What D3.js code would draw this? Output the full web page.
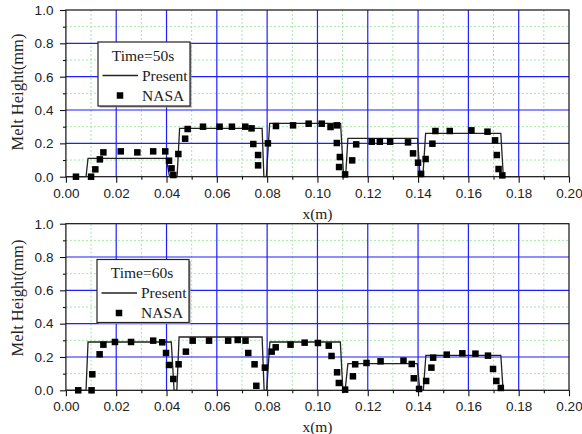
<!DOCTYPE html>
<html>
<head>
<meta charset="utf-8">
<script src="https://cdn.jsdelivr.net/npm/d3@7"></script>
<style>
  html, body { margin: 0; padding: 0; background: #fff; }
  svg { display: block; }
</style>
</head>
<body>
<svg id="chart" width="582" height="434"></svg>
<script>
// Axis ticks
const xMajorTicks = [0, 0.02, 0.04, 0.06, 0.08, 0.10, 0.12, 0.14, 0.16, 0.18, 0.20];
const xMinorTicks = [0.01, 0.03, 0.05, 0.07, 0.09, 0.11, 0.13, 0.15, 0.17, 0.19];
const yMajorTicks = [0, 0.2, 0.4, 0.6, 0.8, 1.0];
const yMinorTicks = [0.1, 0.3, 0.5, 0.7, 0.9];

// Time = 50 s : computed melt profile (x, height)
const present50X = [0, 0.0080, 0.0088, 0.0399, 0.0412, 0.0442, 0.0452, 0.0780, 0.0787, 0.0797, 0.0810, 0.1092, 0.1104, 0.1112, 0.1121, 0.1398, 0.1408, 0.1419, 0.1430, 0.1729, 0.1739, 0.18];
const present50Y = [0, 0, 0.11, 0.11, 0, 0, 0.29, 0.29, 0, 0, 0.32, 0.32, 0, 0, 0.23, 0.23, 0, 0, 0.26, 0.26, 0, 0];
// Time = 50 s : NASA measurements
const nasa50X = [0.0040, 0.0100, 0.0117, 0.0135, 0.0149, 0.0218, 0.0284, 0.0347, 0.0395, 0.0410, 0.0420, 0.0427, 0.0447, 0.0474, 0.0484, 0.0545, 0.0611, 0.0660, 0.0713, 0.0738, 0.0745, 0.0764, 0.0764, 0.0803, 0.0835, 0.0903, 0.0965, 0.1017, 0.1052, 0.1077, 0.1077, 0.1089, 0.1086, 0.1110, 0.1138, 0.1154, 0.1216, 0.1248, 0.1289, 0.1360, 0.1380, 0.1400, 0.1412, 0.1430, 0.1457, 0.1469, 0.1526, 0.1612, 0.1676, 0.1706, 0.1713, 0.1720, 0.1735];
const nasa50Y = [0, 0, 0.044, 0.104, 0.146, 0.152, 0.146, 0.152, 0.152, 0.096, 0.050, 0.010, 0.136, 0.228, 0.286, 0.300, 0.300, 0.300, 0.300, 0.290, 0.196, 0.130, 0.068, 0.200, 0.304, 0.308, 0.318, 0.318, 0.298, 0.308, 0.202, 0.118, 0.058, 0.014, 0.098, 0.194, 0.210, 0.210, 0.210, 0.206, 0.140, 0.084, 0.017, 0.106, 0.198, 0.274, 0.274, 0.278, 0.270, 0.218, 0.130, 0.046, 0.008];

// Time = 60 s : computed melt profile
const present60X = [0, 0.0080, 0.0088, 0.0419, 0.0430, 0.0441, 0.0450, 0.0780, 0.0788, 0.0798, 0.0811, 0.1091, 0.1101, 0.1110, 0.1121, 0.1397, 0.1407, 0.1421, 0.1431, 0.1729, 0.1738, 0.18];
const present60Y = [0, 0, 0.29, 0.29, 0, 0, 0.32, 0.32, 0, 0, 0.29, 0.29, 0, 0, 0.16, 0.16, 0, 0, 0.21, 0.21, 0, 0];
// Time = 60 s : NASA measurements
const nasa60X = [0.0049, 0.0102, 0.0105, 0.0134, 0.0149, 0.0195, 0.0259, 0.0347, 0.0383, 0.0398, 0.0410, 0.0427, 0.0448, 0.0477, 0.0504, 0.0569, 0.0645, 0.0683, 0.0714, 0.0725, 0.0750, 0.0757, 0.0791, 0.0818, 0.0834, 0.0893, 0.0949, 0.1002, 0.1045, 0.1056, 0.1078, 0.1085, 0.1110, 0.1141, 0.1150, 0.1195, 0.1251, 0.1342, 0.1375, 0.1383, 0.1404, 0.1432, 0.1453, 0.1460, 0.1514, 0.1576, 0.1628, 0.1678, 0.1698, 0.1711, 0.1729];
const nasa60Y = [0, 0, 0.096, 0.216, 0.274, 0.290, 0.290, 0.298, 0.288, 0.224, 0.152, 0.068, 0.156, 0.232, 0.298, 0.298, 0.298, 0.302, 0.298, 0.224, 0.156, 0.027, 0.136, 0.232, 0.258, 0.274, 0.286, 0.284, 0.268, 0.206, 0.108, 0.044, 0.004, 0.084, 0.156, 0.164, 0.174, 0.178, 0.158, 0.072, 0.008, 0.056, 0.136, 0.196, 0.214, 0.222, 0.220, 0.208, 0.128, 0.056, 0.014];

const panels = [
  { time: "Time=50s", top: 10, bottom: 176.7, lineX: present50X, lineY: present50Y, ptX: nasa50X, ptY: nasa50Y,
    legend: { x: 98, y: 42, w: 92, h: 64 }, yLabelY: 92 },
  { time: "Time=60s", top: 223.7, bottom: 390.3, lineX: present60X, lineY: present60Y, ptX: nasa60X, ptY: nasa60Y,
    legend: { x: 97, y: 259.5, w: 92, h: 63 }, yLabelY: 298 }
];

const left = 65.9, right = 569;
const serif = "'Liberation Serif', 'Times New Roman', serif";
const sans = "'Liberation Sans', Arial, sans-serif";
const svg = d3.select("#chart");

panels.forEach(p => {
  const x = d3.scaleLinear().domain([0, 0.2]).range([left, right]);
  const y = d3.scaleLinear().domain([0, 1]).range([p.bottom, p.top]);
  const g = svg.append("g");

  // minor grid (dashed green)
  g.append("g").selectAll("line.vx").data(xMinorTicks).join("line")
    .attr("x1", d => x(d)).attr("x2", d => x(d)).attr("y1", p.top).attr("y2", p.bottom)
    .attr("stroke", "#9fe89f").attr("stroke-width", 1).attr("stroke-dasharray", "2,2");
  g.append("g").selectAll("line.hy").data(yMinorTicks).join("line")
    .attr("x1", left).attr("x2", right).attr("y1", d => y(d)).attr("y2", d => y(d))
    .attr("stroke", "#9fe89f").attr("stroke-width", 1).attr("stroke-dasharray", "2,2");

  // major grid (blue)
  g.append("g").selectAll("line").data(xMajorTicks.filter(d => d > 0 && d < 0.2)).join("line")
    .attr("x1", d => x(d)).attr("x2", d => x(d)).attr("y1", p.top).attr("y2", p.bottom)
    .attr("stroke", "#1f1fff").attr("stroke-width", 1.2);
  g.append("g").selectAll("line").data(yMajorTicks.filter(d => d > 0 && d < 1)).join("line")
    .attr("x1", left).attr("x2", right).attr("y1", d => y(d)).attr("y2", d => y(d))
    .attr("stroke", "#1f1fff").attr("stroke-width", 1.2);

  // frame
  g.append("rect").attr("x", left).attr("y", p.top).attr("width", right - left).attr("height", p.bottom - p.top)
    .attr("fill", "none").attr("stroke", "#111").attr("stroke-width", 1.2);

  // axes
  const xAxis = g.append("g").attr("transform", `translate(0,${p.bottom})`)
    .call(d3.axisBottom(x).tickValues(xMajorTicks).tickFormat(d3.format(".2f")).tickSize(6).tickPadding(5.5));
  g.append("g").attr("transform", `translate(0,${p.bottom})`)
    .call(d3.axisBottom(x).tickValues(xMinorTicks).tickFormat("").tickSize(3));
  const yAxis = g.append("g").attr("transform", `translate(${left},0)`)
    .call(d3.axisLeft(y).tickValues(yMajorTicks).tickFormat(d3.format(".1f")).tickSize(6).tickPadding(6.5));
  g.append("g").attr("transform", `translate(${left},0)`)
    .call(d3.axisLeft(y).tickValues(yMinorTicks).tickFormat("").tickSize(3));
  g.selectAll(".domain").remove();
  g.selectAll(".tick line").attr("stroke", "#111").attr("stroke-width", 1.1);
  g.selectAll(".tick text").attr("font-family", sans).attr("font-size", 13.5).attr("fill", "#222");

  // axis titles
  g.append("text").attr("x", (left + right) / 2).attr("y", p.bottom + 42)
    .attr("text-anchor", "middle").attr("font-family", serif).attr("font-size", 15.5).attr("fill", "#222")
    .text("x(m)");
  g.append("text").attr("transform", `translate(23,${p.yLabelY}) rotate(-90)`)
    .attr("text-anchor", "middle").attr("font-family", serif).attr("font-size", 16.5).attr("fill", "#222")
    .text("Melt Height(mm)");

  // computed profile
  const linePts = p.lineX.map((v, i) => [v, p.lineY[i]]);
  g.append("path").datum(linePts)
    .attr("d", d3.line().x(d => x(d[0])).y(d => y(d[1])))
    .attr("fill", "none").attr("stroke", "#222").attr("stroke-width", 1.3);

  // measured points
  const s = 6.5;
  const pts = p.ptX.map((v, i) => [v, p.ptY[i]]);
  g.append("g").selectAll("rect").data(pts).join("rect")
    .attr("x", d => x(d[0]) - s / 2).attr("y", d => y(d[1]) - s / 2)
    .attr("width", s).attr("height", s).attr("fill", "#000");

  // legend
  const L = p.legend;
  const lg = g.append("g").attr("transform", `translate(${L.x},${L.y})`);
  lg.append("rect").attr("x", 1.5).attr("y", 1.5).attr("width", L.w).attr("height", L.h).attr("fill", "#999");
  lg.append("rect").attr("width", L.w).attr("height", L.h).attr("fill", "#fff")
    .attr("stroke", "#222").attr("stroke-width", 1.2);
  lg.append("text").attr("x", 45).attr("y", 18.5).attr("text-anchor", "middle")
    .attr("font-family", serif).attr("font-size", 15.5).attr("fill", "#222").text(p.time);
  lg.append("line").attr("x1", 4.5).attr("x2", 40).attr("y1", 33.5).attr("y2", 33.5)
    .attr("stroke", "#222").attr("stroke-width", 1.3);
  lg.append("text").attr("x", 44).attr("y", 38.5)
    .attr("font-family", serif).attr("font-size", 15.5).attr("fill", "#222").text("Present");
  lg.append("rect").attr("x", 22 - s / 2).attr("y", 53.5 - s / 2).attr("width", s).attr("height", s).attr("fill", "#000");
  lg.append("text").attr("x", 44).attr("y", 58.5)
    .attr("font-family", serif).attr("font-size", 15.5).attr("fill", "#222").text("NASA");
});
</script>
</body>
</html>
